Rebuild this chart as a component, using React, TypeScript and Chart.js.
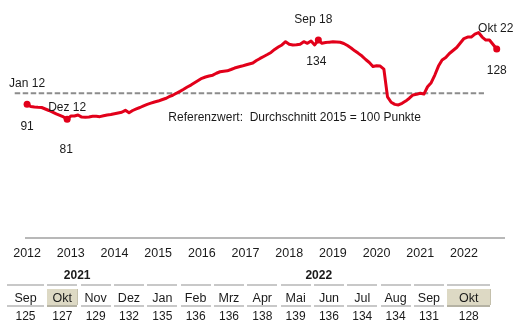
import React, { useEffect, useRef } from "react";
import { Chart, registerables } from "chart.js";

Chart.register(...registerables);

// ---------- data ----------
const YEAR_LABELS = ["2012", "2013", "2014", "2015", "2016", "2017", "2018", "2019", "2020", "2021", "2022"];

// monthly index values, Jan 2012 .. Okt 2022
const VALUES = [
  91, 89.6, 89.2, 89.0, 88.9, 87.9, 86.9, 85.8, 84.6, 83.6, 82.6, 81,
  83.2, 83.2, 83.9, 82.5, 82.4, 82.6, 83.0, 83.0, 82.8, 83.4, 83.9, 84.2,
  84.7, 85.2, 85.7, 87.0, 85.4, 86.9, 88.0, 88.9, 90.0, 91.0, 91.8, 92.6,
  93.2, 94.1, 94.9, 96.1, 97.1, 98.4, 99.7, 101.1, 102.6, 103.9, 105.4, 106.9,
  108.4, 109.3, 110.0, 110.5, 111.8, 112.8, 113.2, 113.4, 114.3, 115.3, 116.0, 116.6,
  117.3, 118.0, 118.6, 120.3, 121.7, 123.0, 124.3, 125.7, 127.7, 129.3, 130.7, 132.9,
  131.2, 130.7, 130.8, 131.2, 132.9, 131.8, 133.4, 130.7, 134, 131.8, 132.3, 132.6,
  132.8, 132.7, 132.5, 131.7, 130.3, 128.7, 126.8, 125.1, 123.3, 121.0, 119.0, 116.3,
  116.8, 116.6, 114.6, 96.0, 92.4, 91.0, 90.6, 91.7, 93.2, 95.1, 97.3, 97.7,
  98.4, 97.9, 102.8, 105.5, 110.6, 116.6, 120.7, 122.3, 125, 127, 129, 132,
  135, 136, 136, 138, 139, 136, 134, 134, 131, 128,
];

const MARK_INDICES = [0, 11, 80, 129];
const MARK_NAMES = ["Jan 12", "Dez 12", "Sep 18", "Okt 22"];

const REFERENCE_LEVEL = 98.4;
const REFERENCE_FROM = -3.4; // month index
const REFERENCE_TO = 125.5;
const REFERENCE_TEXT = "Referenzwert:  Durchschnitt 2015 = 100 Punkte";
const REFERENCE_TEXT_AT = 38.8; // month index where the text starts

const TABLE_YEARS = ["2021", "2022"];
const TABLE_YEAR_SPANS = [4, 10];
const TABLE_MONTHS = ["Sep", "Okt", "Nov", "Dez", "Jan", "Feb", "Mrz", "Apr", "Mai", "Jun", "Jul", "Aug", "Sep", "Okt"];
const TABLE_VALUES = VALUES.slice(-TABLE_MONTHS.length);
const TABLE_HIGHLIGHT = [1, 13];

// ---------- styles ----------
const FONT = '"Liberation Sans", Arial, Helvetica, sans-serif';
const TEXT = "#1a1a1a";
const RED = "#e2001a";
const GRAY_DASH = "#8c8c8c";
const AXIS = "#b8b8b8";
const RULE = "#c8c8c8";
const HILITE = "#ddd9c4";

// label offsets (px) relative to the marked point
const MARK_OFFSETS = [
  { nameDx: 0, above: 21, valueDx: 0, below: 22 },
  { nameDx: 0, above: 12, valueDx: -1, below: 30 },
  { nameDx: -5, above: 20, valueDx: -2, below: 22 },
  { nameDx: -1, above: 20, valueDx: 0, below: 22 },
];

const annotationPlugin = {
  id: "annotations",
  afterDatasetsDraw(chart: any) {
    const { ctx } = chart;
    const x = chart.scales.x;
    const y = chart.scales.y;
    ctx.save();
    ctx.fillStyle = TEXT;
    ctx.font = `12px ${FONT}`;
    ctx.textAlign = "center";
    ctx.textBaseline = "middle";
    MARK_INDICES.forEach((idx, i) => {
      const px = x.getPixelForValue(idx);
      const py = y.getPixelForValue(VALUES[idx]);
      const o = MARK_OFFSETS[i];
      ctx.fillText(MARK_NAMES[i], px + o.nameDx, py - o.above);
      ctx.fillText(String(Math.round(VALUES[idx])), px + o.valueDx, py + o.below);
    });
    ctx.textAlign = "left";
    ctx.fillText(
      REFERENCE_TEXT,
      x.getPixelForValue(REFERENCE_TEXT_AT),
      y.getPixelForValue(REFERENCE_LEVEL) + 24.5
    );
    ctx.restore();
  },
};

function ChartCanvas() {
  const ref = useRef<HTMLCanvasElement | null>(null);
  useEffect(() => {
    if (!ref.current) return;
    Chart.defaults.font.family = FONT;
    Chart.defaults.color = TEXT;
    const chart = new Chart(ref.current, {
      type: "line",
      data: {
        datasets: [
          {
            data: VALUES.map((v, i) => ({ x: i, y: v })),
            borderColor: RED,
            backgroundColor: RED,
            borderWidth: 3,
            tension: 0,
            borderJoinStyle: "round",
            borderCapStyle: "round",
            pointRadius: (c: any) => (MARK_INDICES.includes(c.dataIndex) ? 3.5 : 0),
            pointBorderWidth: 0,
            pointBackgroundColor: RED,
            clip: false,
          },
          {
            data: [
              { x: REFERENCE_FROM, y: REFERENCE_LEVEL },
              { x: REFERENCE_TO, y: REFERENCE_LEVEL },
            ],
            borderColor: GRAY_DASH,
            borderWidth: 2,
            borderDash: [5.5, 2.5],
            pointRadius: 0,
            clip: false,
          },
        ],
      },
      options: {
        animation: false,
        responsive: false,
        devicePixelRatio: 1,
        layout: { padding: { left: 26, right: 16, top: 10, bottom: 0 } },
        plugins: { legend: { display: false }, tooltip: { enabled: false } },
        scales: {
          x: {
            type: "linear",
            min: -0.3,
            max: 131,
            grid: { display: false, drawTicks: false },
            border: { display: true, color: AXIS, width: 2 },
            afterBuildTicks: (scale: any) => {
              scale.ticks = YEAR_LABELS.map((_, i) => ({ value: i * 12 }));
            },
            ticks: {
              autoSkip: false,
              maxRotation: 0,
              padding: 8,
              font: { size: 12.5 },
              color: TEXT,
              callback: (v: any) => YEAR_LABELS[Math.round(Number(v) / 12)],
            },
          },
          y: {
            display: false,
            min: 1.67,
            max: 154.08,
          },
        },
      },
      plugins: [annotationPlugin],
    } as any);
    return () => chart.destroy();
  }, []);
  return <canvas ref={ref} width={520} height={269} style={{ display: "block", width: 520, height: 269 }} />;
}

const CELL_W = 30;
const GAP = 3.33;
function cellWidth(i: number) {
  if (i === 0) return 37;
  if (i === TABLE_MONTHS.length - 1) return 43;
  return CELL_W;
}

export default function App() {
  let col = 0;
  return (
    <div
      style={{
        position: "fixed",
        left: 0,
        top: 0,
        width: 520,
        height: 334,
        background: "#fff",
        fontFamily: FONT,
        color: TEXT,
        overflow: "hidden",
      }}
    >
      <ChartCanvas />
      <div style={{ position: "absolute", left: 7, top: 266 }}>
        <div style={{ display: "flex", height: 18 }}>
          {TABLE_YEARS.map((yr, k) => {
            const span = TABLE_YEAR_SPANS[k];
            let w = 0;
            for (let j = col; j < col + span; j++) w += cellWidth(j) + (j < TABLE_MONTHS.length - 1 ? GAP : 0);
            col += span;
            return (
              <div
                key={yr}
                style={{
                  width: w,
                  textAlign: "center",
                  fontWeight: "bold",
                  fontSize: 12,
                  lineHeight: "18px",
                }}
              >
                {yr}
              </div>
            );
          })}
        </div>
        <div style={{ display: "flex" }}>
          {TABLE_MONTHS.map((m, i) => {
            const hi = TABLE_HIGHLIGHT.includes(i);
            return (
              <div
                key={i}
                style={{
                  width: cellWidth(i),
                  marginRight: i < TABLE_MONTHS.length - 1 ? GAP : 0,
                  textAlign: "center",
                }}
              >
                <div style={{ height: 2, background: RULE, marginBottom: 3 }} />
                <div
                  style={{
                    height: 16,
                    lineHeight: "18px",
                    fontSize: 12.5,
                    background: hi ? HILITE : "transparent",
                    boxShadow: hi ? "1px 0 0 #c4c0ac" : "none",
                  }}
                >
                  {m}
                </div>
                <div style={{ height: 2, background: hi ? "#b5b2a3" : RULE }} />
                <div style={{ height: 18, lineHeight: "19px", fontSize: 12 }}>{TABLE_VALUES[i]}</div>
              </div>
            );
          })}
        </div>
      </div>
    </div>
  );
}
